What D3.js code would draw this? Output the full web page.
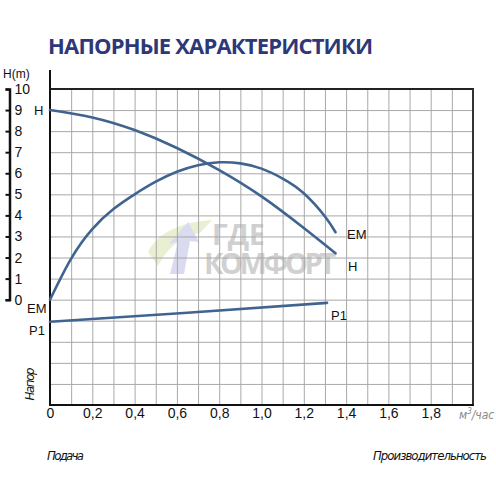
<!DOCTYPE html>
<meta charset="utf-8">
<script src="https://d3js.org/d3.v7.min.js"></script>
<style>
  body { margin: 0; background: #fff; }
  text { font-family: 'Liberation Sans', Arial, sans-serif; }
  .ital { font-family: 'Liberation Sans Narrow', 'DejaVu Sans Condensed', 'Liberation Sans', sans-serif; font-style: italic; }
</style>
<div id="chart"></div>
<script>

// ---- data ----
var xTicks = [0, 0.2, 0.4, 0.6, 0.8, 1.0, 1.2, 1.4, 1.6, 1.8];
var yTicks = [0, 1, 2, 3, 4, 5, 6, 7, 8, 9, 10];

var hFlow = [0, 0.2, 0.4, 0.6, 0.8, 1.0, 1.2, 1.35];
var hHead = [9.0, 8.65, 8.05, 7.2, 6.15, 4.9, 3.4, 2.2];

var emFlow = [0, 0.1, 0.2, 0.3, 0.4, 0.5, 0.6, 0.7, 0.8, 0.9, 1.0, 1.1, 1.2, 1.3, 1.35];
var emVal  = [0, 1.95, 3.35, 4.3, 5.0, 5.6, 6.07, 6.38, 6.52, 6.47, 6.22, 5.75, 5.05, 3.95, 3.2];

var pFlow = [0, 0.65, 1.31];
var pVal  = [-1.05, -0.62, -0.15];

var W = 496, H = 496;
var svg = d3.select("#chart").append("svg")
  .attr("width", W).attr("height", H);

// scales: plot box 50..473 x 89..405
var x = d3.scaleLinear().domain([0, 2]).range([50, 473]);
var y = d3.scaleLinear().domain([-5, 10]).range([405, 89]);

// title
svg.append("text")
  .attr("x", 48).attr("y", 54)
  .style("font-family", "'Open Sans', sans-serif")
  .style("font-weight", "bold")
  .style("font-size", "22px")
  .attr("textLength", 325)
  .style("fill", "#2c3877")
  .text("НАПОРНЫЕ ХАРАКТЕРИСТИКИ");

// watermark
var wm = svg.append("g").style("opacity", 0.4);
wm.append("path")
  .attr("d", "M148,252 C158,232 182,222 212,220 L200,233 C182,237 168,246 158,266 Z")
  .style("fill", "#c9dc8f");
wm.append("path")
  .attr("d", "M170,274 L178,242 L169,244 L188,222 L199,242 L190,241 L184,274 Z")
  .style("fill", "#a4a8dc");
wm.append("text")
  .attr("x", 212).attr("y", 245)
  .style("font-family", "'Open Sans', sans-serif").style("font-weight", "bold")
  .style("font-size", "28px").style("fill", "#8c8c8c")
  .text("ГДЕ");
wm.append("text")
  .attr("x", 204).attr("y", 274)
  .style("font-family", "'Open Sans', sans-serif").style("font-weight", "bold")
  .style("font-size", "29px").style("fill", "#8c8c8c")
  .attr("textLength", 132)
  .text("КОМФОРТ");

// grid
svg.append("g")
  .attr("transform", "translate(0,89)")
  .call(d3.axisBottom(x).tickValues(d3.range(1, 20).map(function(i){ return i / 10; }))
    .tickSize(316).tickFormat(""))
  .call(function(g){ g.select(".domain").remove(); })
  .selectAll("line").attr("stroke", "#a8a8a8");
svg.append("g")
  .attr("transform", "translate(50,0)")
  .call(d3.axisRight(y).tickValues(d3.range(-4, 10)).tickSize(423).tickFormat(""))
  .call(function(g){ g.select(".domain").remove(); })
  .selectAll("line").attr("stroke", "#a8a8a8");

// frame
svg.append("line").attr("x1", 50).attr("x2", 474).attr("y1", 89).attr("y2", 89)
  .attr("stroke", "#222").attr("stroke-width", 2);
svg.append("line").attr("x1", 473).attr("x2", 473).attr("y1", 89).attr("y2", 406)
  .attr("stroke", "#333").attr("stroke-width", 2);
svg.append("line").attr("x1", 49).attr("x2", 474).attr("y1", 405).attr("y2", 405)
  .attr("stroke", "#111").attr("stroke-width", 2);
svg.append("line").attr("x1", 50).attr("x2", 50).attr("y1", 70).attr("y2", 406)
  .attr("stroke", "#111").attr("stroke-width", 2);

// x tick labels
svg.append("g")
  .attr("transform", "translate(0,405)")
  .call(d3.axisBottom(x).tickValues(xTicks).tickSize(0).tickPadding(3)
    .tickFormat(function(d){ return d3.format(".1f")(d).replace(".", ",").replace(/^0,0$/, "0"); }))
  .call(function(g){ g.select(".domain").remove(); })
  .selectAll("text")
    .style("font-size", "14px").style("fill", "#111")
    .style("font-family", "'Liberation Sans', Arial, sans-serif");

// left y bracket axis (0..10)
var yL = d3.scaleLinear().domain([0, 10]).range([y(0), y(10)]);
var ax = svg.append("g")
  .attr("transform", "translate(9.5,0)")
  .call(d3.axisLeft(yL).tickValues(yTicks).tickSize(4).tickSizeOuter(4));
ax.select(".domain").attr("stroke", "#111").attr("stroke-width", 2.5);
ax.selectAll("line").attr("stroke", "#111").attr("stroke-width", 2);
ax.selectAll("text")
  .attr("x", 5).attr("text-anchor", "start")
  .style("font-size", "14px").style("fill", "#111")
  .style("font-family", "'Liberation Sans', Arial, sans-serif");

svg.append("text").attr("x", 3).attr("y", 78)
  .style("font-size", "12px").style("fill", "#111").text("H(m)");

// curves
var line = d3.line()
  .x(function(d){ return x(d[0]); })
  .y(function(d){ return y(d[1]); })
  .curve(d3.curveNatural);
var curveColor = "#40648f";
[[hFlow, hHead], [emFlow, emVal], [pFlow, pVal]].forEach(function(s){
  svg.append("path")
    .datum(d3.zip(s[0], s[1]))
    .attr("d", line)
    .attr("fill", "none")
    .attr("stroke", curveColor)
    .attr("stroke-width", 2.6)
    .attr("stroke-linecap", "round");
});

// curve labels
var labels = [
  {t: "H", x: 34, y: 115}, {t: "EM", x: 27, y: 313}, {t: "P1", x: 29, y: 335},
  {t: "EM", x: 347, y: 239}, {t: "H", x: 348, y: 271}, {t: "P1", x: 331, y: 320}
];
svg.selectAll("text.lbl").data(labels).enter().append("text")
  .attr("class", "lbl")
  .attr("x", function(d){ return d.x; })
  .attr("y", function(d){ return d.y; })
  .style("font-size", "13px").style("fill", "#111")
  .text(function(d){ return d.t; });

// axis titles
svg.append("text").attr("class", "ital")
  .attr("transform", "translate(34,384) rotate(-90)")
  .attr("text-anchor", "middle")
  .style("font-size", "13px").style("fill", "#111")
  .attr("textLength", 33)
  .text("Напор");
svg.append("text").attr("class", "ital")
  .attr("x", 47).attr("y", 460)
  .style("font-size", "13px").style("fill", "#111")
  .attr("textLength", 37)
  .text("Подача");
svg.append("text").attr("class", "ital")
  .attr("x", 373).attr("y", 460)
  .style("font-size", "13px").style("fill", "#111")
  .attr("textLength", 114)
  .text("Производительность");
var unit = svg.append("text").attr("class", "ital")
  .attr("x", 459).attr("y", 419)
  .style("font-size", "12px").style("fill", "#888");
unit.append("tspan").text("м");
unit.append("tspan").attr("dy", -5).style("font-size", "8px").text("3");
unit.append("tspan").attr("dy", 5).text("/час");
</script>
